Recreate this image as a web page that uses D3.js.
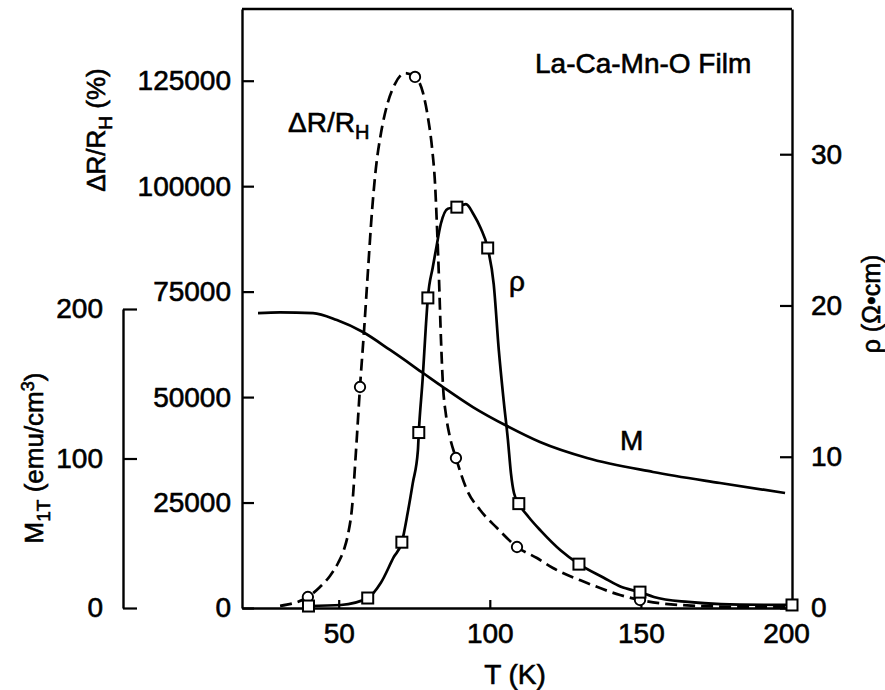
<!DOCTYPE html>
<html>
<head>
<meta charset="utf-8">
<script src="https://cdn.jsdelivr.net/npm/d3@7"></script>
<style>
  body { margin: 0; background: #fff; }
  text { font-family: "Liberation Sans", Arial, Helvetica, sans-serif; fill: #000; stroke: #000; stroke-width: 0.6px; }
</style>
</head>
<body>
<script>
// axis ticks
var tempTicks = [50, 100, 150, 200];
var drTicks = [0, 25000, 50000, 75000, 100000, 125000];
var rhoTicks = [0, 10, 20, 30];
var magTicks = [0, 100, 200];

// dR/R_H (%) smooth curve
var drCurveT = [30.6, 39.8, 43.8, 47.1, 49.8, 51.8, 53.1, 54.4, 55.7, 57.05, 58.4, 59.7, 61.0, 62.3, 64.0, 66.0, 68.6, 71.9, 75.25, 77.9, 79.55, 80.9, 81.9, 82.5, 83.2, 83.85, 84.5, 85.5, 86.8, 88.8, 92.45, 96.8, 102.4, 109.0, 115.6, 120.9, 132.2, 143.1, 149.7, 162.9, 182.8, 200];
var drCurveV = [500, 2610, 4980, 7590, 10670, 13990, 17540, 23710, 36980, 52390, 65900, 80130, 93880, 104200, 112600, 119200, 124200, 126800, 125900, 122100, 116200, 109000, 100300, 90800, 77750, 63530, 52860, 45750, 40540, 35560, 27970, 23230, 18960, 14460, 11850, 9480, 5930, 3080, 1900, 710, 240, 150];
// dR/R_H measured points (circles)
var drMarkT = [39.8, 57.05, 75.25, 88.8, 109.0, 149.7];
var drMarkV = [2610, 52390, 125900, 35560, 14460, 1900];

// resistivity rho (Ohm cm) curve
var rhoCurveT = [40, 50.7, 59.6, 63.9, 68.2, 70.9, 72.8, 74.5, 76.2, 76.5, 77.8, 78.8, 79.5, 81.1, 82.1, 83.8, 86.1, 89.1, 92.1, 94.7, 97, 99.3, 101.3, 103, 104.6, 106, 107, 108, 109.6, 112.9, 116.9, 123.5, 129.5, 137.7, 143.4, 149.7, 154.3, 165.6, 176.5, 200];
var rhoCurveV = [0.13, 0.2, 0.66, 1.65, 3.36, 4.35, 6.26, 8.24, 10.4, 11.6, 15.2, 18.5, 20.5, 22.5, 23.6, 25.4, 26.4, 26.5, 26.7, 26.0, 25.1, 23.8, 21.4, 17.0, 13.7, 11.1, 8.9, 7.6, 6.9, 6.0, 5.1, 3.8, 2.9, 2.0, 1.4, 1.05, 0.73, 0.4, 0.26, 0.2];
// rho measured points (squares)
var rhoMarkT = [40, 59.6, 70.9, 76.5, 79.5, 89.1, 99.3, 109.6, 129.5, 149.7, 200];
var rhoMarkV = [0.13, 0.66, 4.35, 11.6, 20.5, 26.5, 23.8, 6.9, 2.9, 1.05, 0.2];

// magnetisation M_1T (emu/cm3)
var magCurveT = [23.3, 30.6, 41.5, 49.4, 58.0, 67.0, 77.9, 84.5, 94.4, 105.7, 116.6, 132.2, 154.0, 176.2, 197.7];
var magCurveV = [197.3, 197.8, 197.3, 192.6, 184.6, 172.6, 157.2, 147.8, 134.4, 121.7, 111.0, 100.3, 91.0, 83.6, 76.9];

var W = 885, H = 690;
var svg = d3.select("body").append("svg").attr("width", W).attr("height", H);
svg.append("rect").attr("width", W).attr("height", H).attr("fill", "#fff");

var x = d3.scaleLinear().domain([18, 200]).range([242, 792]);
var yDR = d3.scaleLinear().domain([0, 142000]).range([608, 9]);
var yRho = d3.scaleLinear().domain([0, 39.6]).range([608, 9]);
var yMag = d3.scaleLinear().domain([0, 200]).range([608, 309]);

function styleAxis(g) {
    g.selectAll("path.domain").attr("stroke", "#000").attr("stroke-width", 2.4);
    g.selectAll(".tick line").attr("stroke", "#000").attr("stroke-width", 2.2);
    g.selectAll("text").attr("font-size", 28).attr("fill", "#000")
        .attr("font-family", "'Liberation Sans', Arial, sans-serif");
}

// left dR axis
svg.append("g").attr("transform", "translate(242,0)")
    .call(d3.axisLeft(yDR).tickValues(drTicks).tickFormat(d3.format("d")).tickSize(-12).tickSizeOuter(0).tickPadding(11))
    .call(styleAxis);

// right rho axis
svg.append("g").attr("transform", "translate(792,0)")
    .call(d3.axisRight(yRho).tickValues(rhoTicks).tickSize(-12).tickSizeOuter(0).tickPadding(19))
    .call(styleAxis);

// bottom T axis
var xAxisG = svg.append("g").attr("transform", "translate(0,608)")
    .call(d3.axisBottom(x).tickValues(tempTicks).tickSize(-8).tickSizeOuter(0).tickPadding(15))
    .call(styleAxis);
// keep the last label clear of the right-axis "0"
xAxisG.selectAll(".tick text").filter(function (d) { return d === 200; }).attr("dx", -6);

// top frame line
svg.append("line").attr("x1", x(18)).attr("x2", x(200)).attr("y1", 9).attr("y2", 9)
    .attr("stroke", "#000").attr("stroke-width", 2.4);

// separate M axis
svg.append("g").attr("transform", "translate(123,0)")
    .call(d3.axisLeft(yMag).tickValues(magTicks).tickSize(-14).tickSizeOuter(0).tickPadding(20))
    .call(styleAxis);

function pts(ts, vs) { return ts.map(function (t, i) { return [t, vs[i]]; }); }

var lineDR = d3.line().x(function (d) { return x(d[0]); }).y(function (d) { return yDR(d[1]); }).curve(d3.curveMonotoneX);
var lineRho = d3.line().x(function (d) { return x(d[0]); }).y(function (d) { return yRho(d[1]); }).curve(d3.curveMonotoneX);
var lineMag = d3.line().x(function (d) { return x(d[0]); }).y(function (d) { return yMag(d[1]); }).curve(d3.curveMonotoneX);

svg.append("path").attr("d", lineMag(pts(magCurveT, magCurveV)))
    .attr("fill", "none").attr("stroke", "#000").attr("stroke-width", 2.7);
svg.append("path").attr("d", lineDR(pts(drCurveT, drCurveV)))
    .attr("fill", "none").attr("stroke", "#000").attr("stroke-width", 2.7).attr("stroke-dasharray", "12,6");
svg.append("path").attr("d", lineRho(pts(rhoCurveT, rhoCurveV)))
    .attr("fill", "none").attr("stroke", "#000").attr("stroke-width", 2.7);

// markers
svg.selectAll("circle.dr").data(pts(drMarkT, drMarkV)).enter().append("circle")
    .attr("class", "dr").attr("cx", function (d) { return x(d[0]); }).attr("cy", function (d) { return yDR(d[1]); })
    .attr("r", 5.2).attr("fill", "#fff").attr("stroke", "#000").attr("stroke-width", 1.9);
svg.selectAll("rect.rho").data(pts(rhoMarkT, rhoMarkV)).enter().append("rect")
    .attr("class", "rho").attr("x", function (d) { return x(d[0]) - 5.5; }).attr("y", function (d) { return yRho(d[1]) - 5.5; })
    .attr("width", 11).attr("height", 11).attr("fill", "#fff").attr("stroke", "#000").attr("stroke-width", 2);

// labels
svg.append("text").attr("x", 535).attr("y", 73).attr("font-size", 28).text("La-Ca-Mn-O Film");

var lbl = svg.append("text").attr("x", 288).attr("y", 132).attr("font-size", 28);
lbl.append("tspan").text("\u0394R/R");
lbl.append("tspan").attr("font-size", 20).attr("dy", 7).text("H");

svg.append("text").attr("x", 509).attr("y", 291).attr("font-size", 28).text("\u03c1");
svg.append("text").attr("x", 620).attr("y", 450).attr("font-size", 28).text("M");

svg.append("text").attr("x", 515).attr("y", 684).attr("font-size", 28).attr("text-anchor", "middle").text("T (K)");

// axis titles
var tDR = svg.append("text").attr("transform", "translate(105,130) rotate(-90)").attr("text-anchor", "middle").attr("font-size", 26);
tDR.append("tspan").text("\u0394R/R");
tDR.append("tspan").attr("font-size", 19).attr("dy", 7).text("H");
tDR.append("tspan").attr("dy", -7).text(" (%)");

var tM = svg.append("text").attr("transform", "translate(43,458) rotate(-90)").attr("text-anchor", "middle").attr("font-size", 26);
tM.append("tspan").text("M");
tM.append("tspan").attr("font-size", 19).attr("dy", 7).text("1T");
tM.append("tspan").attr("dy", -7).text(" (emu/cm");
tM.append("tspan").attr("font-size", 18).attr("dy", -9).text("3");
tM.append("tspan").attr("dy", 9).text(")");

svg.append("text").attr("transform", "translate(880,304) rotate(-90)").attr("text-anchor", "middle").attr("font-size", 25)
    .text("\u03c1 (\u03a9\u2022cm)");
</script>
</body>
</html>
